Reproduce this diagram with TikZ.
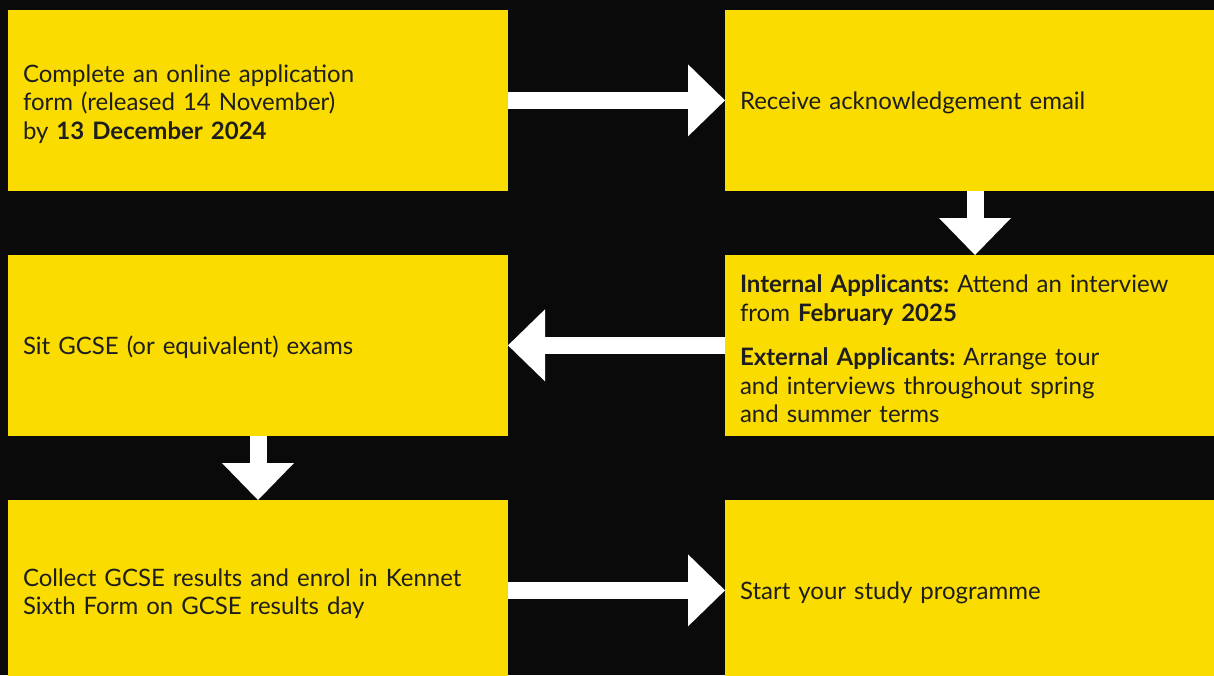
\documentclass[tikz,border=0pt]{standalone}
\usepackage{fontspec}
\setmainfont{Lato}
\frenchspacing
\usetikzlibrary{positioning,arrows.meta}
\definecolor{kyellow}{RGB}{250,220,0}
\definecolor{kblack}{RGB}{10,10,10}
\definecolor{ktext}{RGB}{30,30,30}
\tikzset{
  stepbox/.style={fill=kyellow, text=ktext, minimum width=500pt, minimum height=180.7pt,
    text width=470pt, inner sep=15pt, outer sep=0pt, align=left,
    font=\fontsize{24}{28.5}\selectfont, execute at end node={\par\vspace*{-7pt}}},
  bigarrow/.style={draw=white, line width=17pt,
    -{Triangle[length=37pt,width=72pt,line width=0pt]}}
}
\begin{document}
\begin{tikzpicture}
\fill[kblack] (0,0) rectangle (1214pt,-675pt);
\useasboundingbox (0,0) rectangle (1214pt,-675pt);
\node[stepbox, anchor=north west] (apply) at (8pt,-10pt)
  {Complete an online application\\ form (released 14 November)\\ by \textbf{13 December 2024}};
\node[stepbox, right=217pt of apply] (ackn) {Receive acknowledgement email};
\node[stepbox, below=64.3pt of apply] (exams) {Sit GCSE (or equivalent) exams};
\node[stepbox, below=64.3pt of ackn] (interview)
  {\textbf{Internal Applicants:} Attend an interview\\ from \textbf{February 2025}\\[15.7pt]
   \textbf{External Applicants:} Arrange tour\\ and interviews throughout spring\\ and summer terms};
\node[stepbox, below=64.3pt of exams] (collect)
  {Collect GCSE results and enrol in Kennet\\ Sixth Form on GCSE results day};
\node[stepbox, right=217pt of collect] (start) {Start your study programme};
\draw[bigarrow] (apply) -- (ackn);
\draw[bigarrow] (ackn) -- (interview);
\draw[bigarrow] (interview) -- (exams);
\draw[bigarrow] (exams) -- (collect);
\draw[bigarrow] (collect) -- (start);
\end{tikzpicture}
\end{document}
